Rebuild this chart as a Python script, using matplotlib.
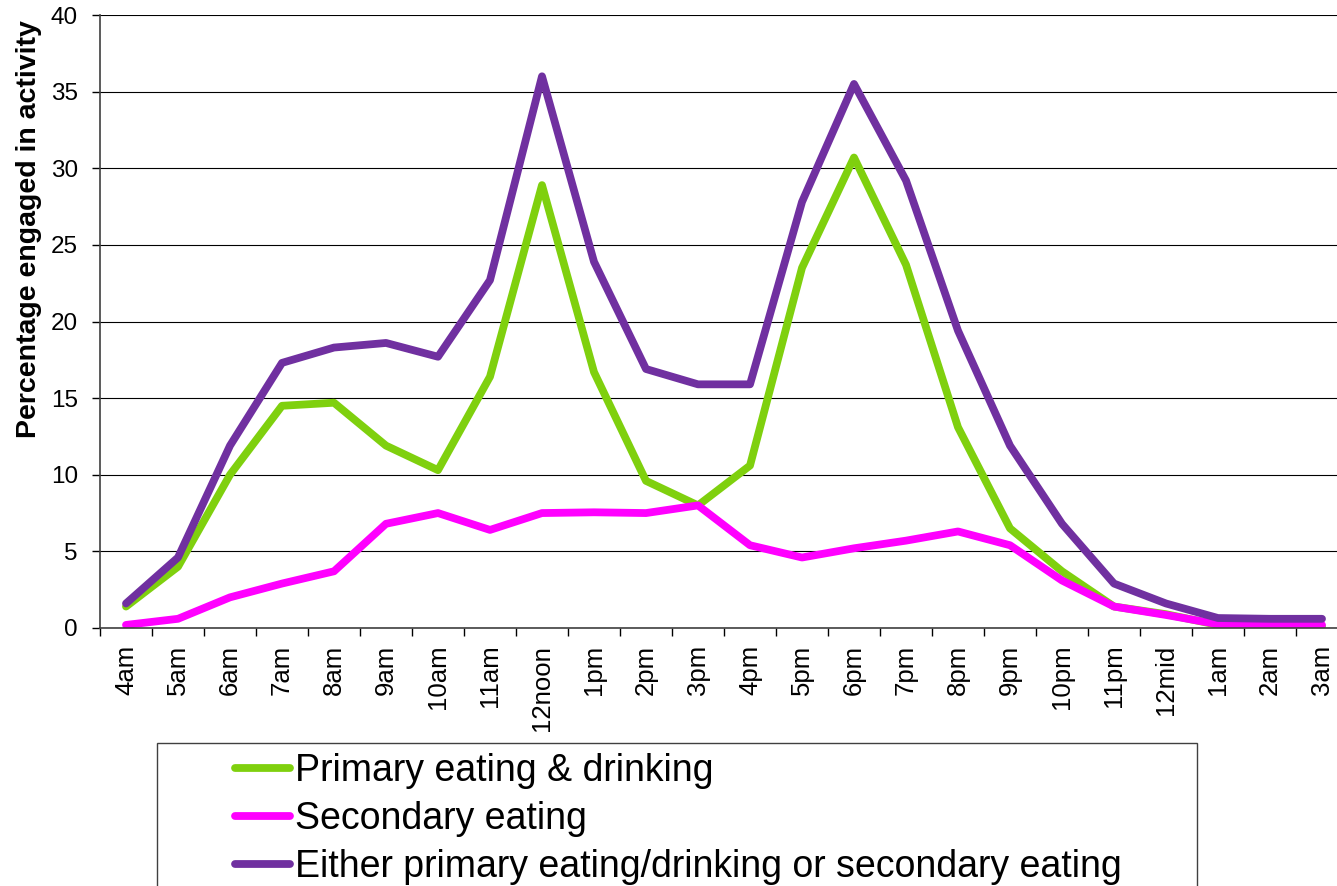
import numpy as np
import matplotlib.pyplot as plt
from matplotlib.patches import Rectangle
from matplotlib.ticker import MultipleLocator

plt.rcParams['font.family'] = ['Liberation Sans', 'DejaVu Sans']

hours = ['4am', '5am', '6am', '7am', '8am', '9am', '10am', '11am', '12noon',
         '1pm', '2pm', '3pm', '4pm', '5pm', '6pm', '7pm', '8pm', '9pm',
         '10pm', '11pm', '12mid', '1am', '2am', '3am']

primary = [1.4, 4.0, 10.0, 14.5, 14.7, 11.9, 10.3, 16.4, 28.9, 16.7, 9.6, 8.0,
           10.6, 23.5, 30.7, 23.7, 13.1, 6.5, 3.7, 1.4, 0.9, 0.2, 0.1, 0.1]
secondary = [0.2, 0.6, 2.0, 2.9, 3.7, 6.8, 7.5, 6.4, 7.5, 7.55, 7.5, 8.0,
             5.4, 4.6, 5.2, 5.7, 6.3, 5.4, 3.1, 1.4, 0.85, 0.25, 0.2, 0.2]
either = [1.6, 4.6, 11.9, 17.3, 18.3, 18.6, 17.7, 22.7, 36.0, 23.9, 16.9, 15.9,
          15.9, 27.8, 35.5, 29.2, 19.4, 11.9, 6.8, 2.9, 1.6, 0.65, 0.6, 0.6]

labels = ['Primary eating & drinking', 'Secondary eating',
          'Either primary eating/drinking or secondary eating']
colors = ['#7fd00e', '#ff00ff', '#7030a0']

W, H = 1337, 886
fig = plt.figure(figsize=(W / 100, H / 100), dpi=100)
ax = fig.add_axes([100 / W, 1 - 628 / H, 1248 / W, 613 / H])

x = np.arange(len(hours))
lines = []
for vals, lab, col in zip([primary, secondary, either], labels, colors):
    ln, = ax.plot(x, vals, color=col, lw=5.6, solid_capstyle='round',
                  solid_joinstyle='round', label=lab)
    lines.append(ln)

ax.set_xlim(-0.5, len(hours) - 0.5)
ax.set_ylim(0, 40)
ax.yaxis.set_major_locator(MultipleLocator(5))
ax.grid(axis='y', color='black', lw=0.8)
ax.set_axisbelow(True)

ax.set_xticks(x)
ax.set_xticklabels(hours, rotation=90, fontsize=18.5)
ax.set_xticks(np.arange(-0.5, len(hours)), minor=True)
ax.tick_params(axis='x', which='major', length=0, pad=12)
ax.tick_params(axis='x', which='minor', length=6, width=1, direction='out')
ax.tick_params(axis='y', length=6, width=1, labelsize=17.5, pad=10)

for s in ['top', 'right']:
    ax.spines[s].set_visible(False)
for s in ['left', 'bottom']:
    ax.spines[s].set_color('#404040')
    ax.spines[s].set_linewidth(1.2)

ax.set_ylabel('Percentage engaged in activity', fontsize=20.5,
              fontweight='bold')
ax.yaxis.set_label_coords(-58 / 1248, (628 - 229) / 613)

# legend box runs off the bottom of the figure
fig.patches.append(Rectangle((157 / W, -0.05), (1197 - 157) / W,
                             1 - 743 / H + 0.05, transform=fig.transFigure,
                             fill=False, edgecolor='#404040', lw=1))
fig.legend(handles=lines, loc='upper left',
           bbox_to_anchor=(235 / W, 1 - 753 / H), frameon=False,
           fontsize=27, handlelength=1.47, handletextpad=0.13,
           labelspacing=0.32, borderpad=0, borderaxespad=0)

fig.savefig('out.png', dpi=100)
